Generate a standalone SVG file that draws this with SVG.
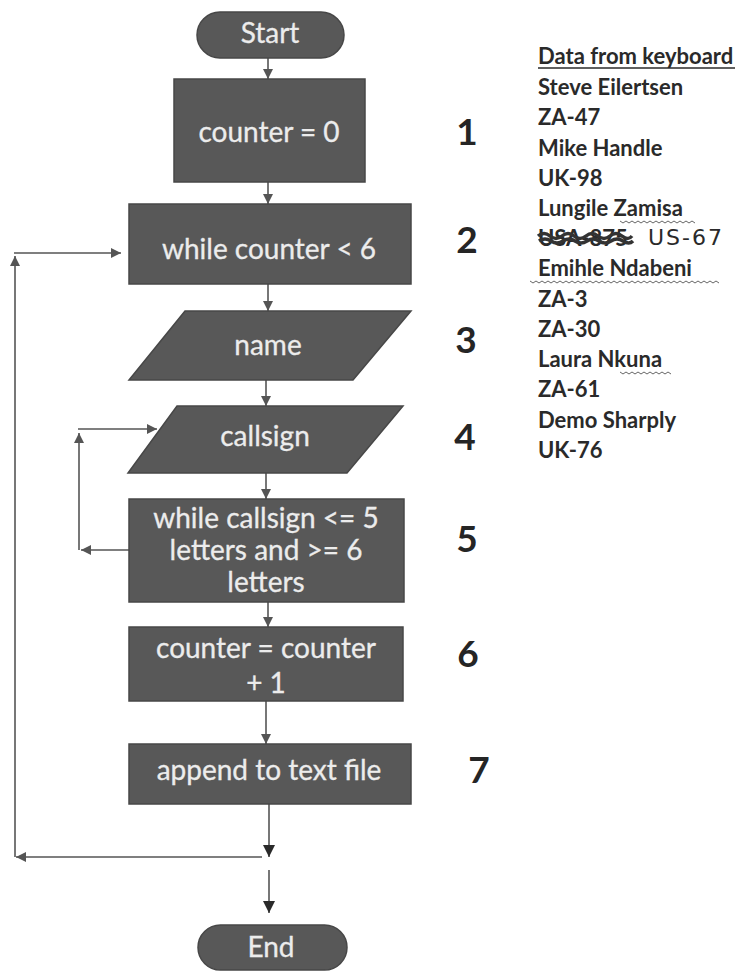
<svg xmlns="http://www.w3.org/2000/svg" width="743" height="971" viewBox="0 0 743 971">
<defs>
<style>
.box{fill:#585858;stroke:#474747;stroke-width:1.5}
.lbl{font-family:Lato,"Liberation Sans",sans-serif;font-size:28px;fill:#ececec;text-anchor:middle;stroke:#ececec;stroke-width:0.3}
.num{font-family:Lato,"Liberation Sans",sans-serif;font-size:37px;font-weight:bold;fill:#252525;text-anchor:middle}
.data{font-family:Lato,"Liberation Sans",sans-serif;font-size:22px;font-weight:bold;fill:#2a2a2a}
.hand{font-family:"DejaVu Sans","Liberation Sans",sans-serif;font-size:22px;fill:#2a2a2a;letter-spacing:2px}
.con{fill:none;stroke:#555;stroke-width:1.6}
.wavy{fill:none;stroke:#666;stroke-width:1}
</style>
<marker id="ah" viewBox="0 0 10 10" refX="10" refY="5" markerWidth="10" markerHeight="10" markerUnits="userSpaceOnUse" orient="auto">
<path d="M0,0 L10,5 L0,10 z" fill="#555"/>
</marker>
<marker id="ahd" viewBox="0 0 10 10" refX="10" refY="5" markerWidth="12" markerHeight="12" markerUnits="userSpaceOnUse" orient="auto">
<path d="M0,0 L10,5 L0,10 z" fill="#2a2a2a"/>
</marker>
</defs>

<g id="connectors">
<line class="con" x1="268" y1="58" x2="268" y2="79" marker-end="url(#ah)"/>
<line class="con" x1="268" y1="182" x2="268" y2="204" marker-end="url(#ah)"/>
<line class="con" x1="268" y1="284" x2="268" y2="311" marker-end="url(#ah)"/>
<line class="con" x1="266" y1="380" x2="266" y2="406" marker-end="url(#ah)"/>
<line class="con" x1="266" y1="473" x2="266" y2="499" marker-end="url(#ah)"/>
<line class="con" x1="268" y1="602" x2="268" y2="627" marker-end="url(#ah)"/>
<line class="con" x1="266" y1="701" x2="266" y2="744" marker-end="url(#ah)"/>
<line class="con" x1="269" y1="804" x2="269" y2="857" stroke="#2a2a2a" marker-end="url(#ahd)"/>
<line class="con" x1="262" y1="857" x2="16" y2="857" marker-end="url(#ah)"/>
<line class="con" x1="15" y1="857" x2="15" y2="256" marker-end="url(#ah)"/>
<line class="con" x1="14" y1="253" x2="121" y2="253" marker-end="url(#ah)"/>
<line class="con" x1="269" y1="870" x2="269" y2="913" stroke="#2a2a2a" stroke-width="2" marker-end="url(#ahd)"/>
<line class="con" x1="129" y1="550" x2="81" y2="550" marker-end="url(#ah)"/>
<line class="con" x1="79" y1="550" x2="79" y2="433" marker-end="url(#ah)"/>
<line class="con" x1="78" y1="429" x2="157" y2="429" marker-end="url(#ah)"/>
</g>

<g id="start">
<rect class="box" x="197" y="12" width="147" height="46" rx="23"/>
<text class="lbl" x="270" y="43">Start</text>
</g>
<g id="init">
<rect class="box" x="174" y="79" width="191" height="103"/>
<text class="lbl" x="269" y="142">counter = 0</text>
</g>
<g id="while-counter">
<rect class="box" x="129" y="204" width="282" height="80"/>
<text class="lbl" x="269" y="259">while counter &lt; 6</text>
</g>
<g id="name">
<polygon class="box" points="185,311 411,311 353,380 129,380"/>
<text class="lbl" x="268" y="355">name</text>
</g>
<g id="callsign">
<polygon class="box" points="177,406 403,406 347,473 128,473"/>
<text class="lbl" x="265" y="446">callsign</text>
</g>
<g id="while-callsign">
<rect class="box" x="129" y="499" width="275" height="103"/>
<text class="lbl" x="266" y="528">while callsign &lt;= 5</text>
<text class="lbl" x="266" y="560">letters and &gt;= 6</text>
<text class="lbl" x="266" y="592">letters</text>
</g>
<g id="increment">
<rect class="box" x="129" y="627" width="274" height="74"/>
<text class="lbl" x="266" y="658">counter = counter</text>
<text class="lbl" x="266" y="693">+ 1</text>
</g>
<g id="append">
<rect class="box" x="129" y="744" width="282" height="60"/>
<text class="lbl" x="269" y="780">append to text file</text>
</g>
<g id="end">
<rect class="box" x="198" y="925" width="149" height="45" rx="22.5"/>
<text class="lbl" x="271" y="957">End</text>
</g>

<g id="step-numbers">
<text class="num" x="467" y="145">1</text>
<text class="num" x="467" y="253">2</text>
<text class="num" x="466" y="353">3</text>
<text class="num" x="465" y="450">4</text>
<text class="num" x="467" y="552">5</text>
<text class="num" x="468" y="667">6</text>
<text class="num" x="479" y="783">7</text>
</g>

<g id="data-list">
<text class="data" x="538" y="64">Data from keyboard</text>
<line x1="538" y1="68" x2="735" y2="68" stroke="#2a2a2a" stroke-width="1.5"/>
<text class="data" x="538" y="95">Steve Eilertsen</text>
<text class="data" x="538" y="125">ZA-47</text>
<text class="data" x="538" y="156">Mike Handle</text>
<text class="data" x="538" y="186">UK-98</text>
<text class="data" x="538" y="216">Lungile Zamisa</text>
<path class="wavy" d="M620,221 l3,2 l3,-2 l3,2 l3,-2 l3,2 l3,-2 l3,2 l3,-2 l3,2 l3,-2 l3,2 l3,-2 l3,2 l3,-2 l3,2 l3,-2 l3,2 l3,-2 l3,2 l3,-2 l3,2 l3,-2 l3,2 l3,-2 l3,2"/>
<text class="data" x="538" y="246" fill="#555">USA-875</text>
<path d="M538,236 q6,-5 12,0 t12,0 t12,0 t12,0 t12,0 t12,0 t12,0 t10,0 M539,241 q6,-4 12,0 t12,0 t12,0 t12,0 t12,0 t12,0 t12,0 t10,0" fill="none" stroke="#333" stroke-width="3.5"/>
<text class="hand" x="648" y="245">US-67</text>
<text class="data" x="538" y="276">Emihle Ndabeni</text>
<path class="wavy" d="M530,281 l3,2 l3,-2 l3,2 l3,-2 l3,2 l3,-2 l3,2 l3,-2 l3,2 l3,-2 l3,2 l3,-2 l3,2 l3,-2 l3,2 l3,-2 l3,2 l3,-2 l3,2 l3,-2 l3,2 l3,-2 l3,2 l3,-2 l3,2 l3,-2 l3,2 l3,-2 l3,2 l3,-2 l3,2 l3,-2 l3,2 l3,-2 l3,2 l3,-2 l3,2 l3,-2 l3,2 l3,-2 l3,2 l3,-2 l3,2 l3,-2 l3,2 l3,-2 l3,2 l3,-2 l3,2 l3,-2 l3,2 l3,-2 l3,2 l3,-2 l3,2 l3,-2 l3,2 l3,-2 l3,2 l3,-2 l3,2 l3,-2 l3,2" stroke="#999"/>
<text class="data" x="538" y="307">ZA-3</text>
<text class="data" x="538" y="337">ZA-30</text>
<text class="data" x="538" y="367">Laura Nkuna</text>
<path class="wavy" d="M620,372 l3,2 l3,-2 l3,2 l3,-2 l3,2 l3,-2 l3,2 l3,-2 l3,2 l3,-2 l3,2 l3,-2 l3,2 l3,-2 l3,2 l3,-2 l3,2"/>
<text class="data" x="538" y="397">ZA-61</text>
<text class="data" x="538" y="428">Demo Sharply</text>
<text class="data" x="538" y="458">UK-76</text>
</g>
</svg>
